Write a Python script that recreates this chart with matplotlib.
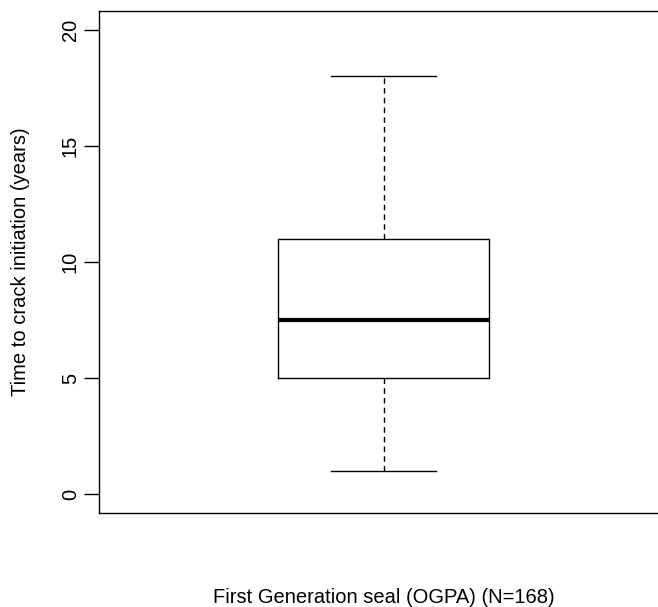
import matplotlib
matplotlib.use("Agg")
import matplotlib.pyplot as plt

plt.rcParams['font.family'] = ['Liberation Sans', 'DejaVu Sans']

# Data (five-number summary)
categories = ["First Generation seal (OGPA) (N=168)"]
whisker_low = [1.0]
q1 = [5.0]
median = [7.5]
q3 = [11.0]
whisker_high = [18.0]
yticks = [0, 5, 10, 15, 20]

FS = 14.5
W, H = 658, 607
fig = plt.figure(figsize=(W / 100, H / 100), dpi=100)
ax = fig.add_axes([98.5 / W, (H - 513) / H, 570 / W, 502 / H])

stats = [dict(med=median[0], q1=q1[0], q3=q3[0], whislo=whisker_low[0],
              whishi=whisker_high[0], fliers=[], label=categories[0])]
ax.bxp(stats, positions=[1], widths=0.4, showfliers=False,
       boxprops=dict(color='black', linewidth=1.0),
       medianprops=dict(color='black', linewidth=3.0, solid_capstyle='butt'),
       whiskerprops=dict(color='black', linewidth=1.0, linestyle=(0, (4, 3))),
       capprops=dict(color='black', linewidth=1.0),
       capwidths=0.2)

ax.set_xlim(0.46, 1.54)
ax.set_ylim(-0.8, 20.8)
ax.set_xticks([])
ax.set_yticks(yticks)
ax.set_yticklabels([str(v) for v in yticks], rotation=90, va='center', fontsize=FS)
ax.tick_params(axis='y', length=11, width=1, pad=2.5)
ax.spines['right'].set_visible(False)
for s in ['left', 'top', 'bottom']:
    ax.spines[s].set_linewidth(1.0)

fig.text(21 / W, 1 - 261.5 / H, "Time to crack initiation (years)", rotation=90,
         ha='center', va='center', fontsize=FS)
fig.text(384 / W, 1 - 603 / H, categories[0], ha='center', va='baseline', fontsize=FS)

fig.savefig("out.png", dpi=100)
